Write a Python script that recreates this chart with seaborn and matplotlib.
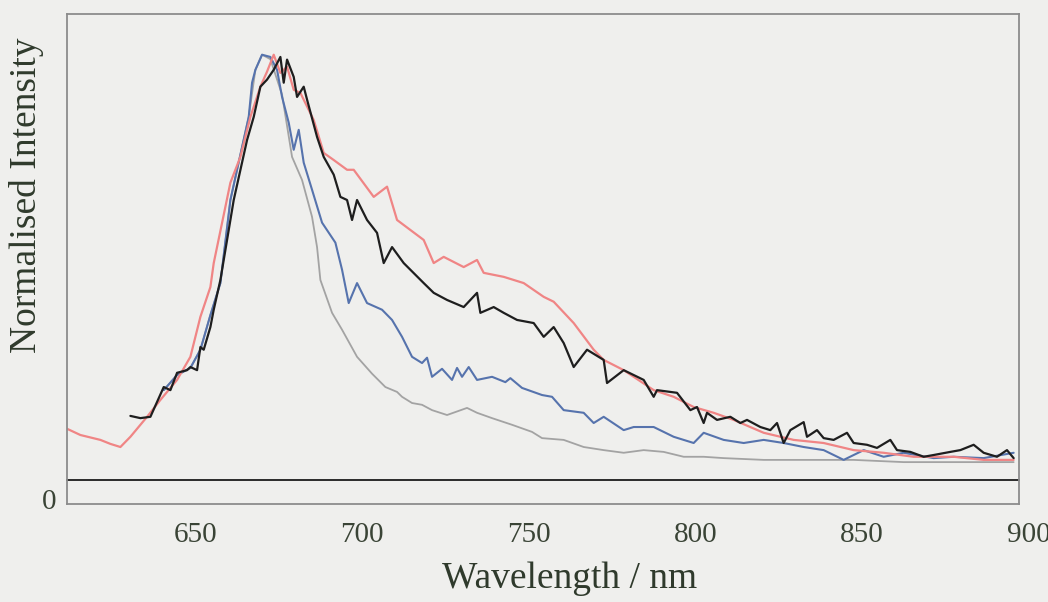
import matplotlib
matplotlib.use("Agg")
import matplotlib.pyplot as plt
import matplotlib.transforms as mtransforms
import seaborn as sns

# emission spectra (wavelength nm, normalised intensity)
red_wl = [616, 620, 626, 629, 632, 635, 640, 644, 649, 653, 656, 659, 660, 665, 668, 671, 674, 676,
          678, 680, 682, 684, 686, 690, 693, 696, 700, 702, 708, 712, 715, 723, 726, 729, 735, 739,
          741, 747, 753, 759, 762, 768, 774, 777, 783, 792, 798, 804, 810, 816, 825, 834, 843, 852,
          861, 870, 882, 891, 900]
red_int = [0.158, 0.144, 0.133, 0.124, 0.117, 0.140, 0.185, 0.223, 0.268, 0.320, 0.410, 0.477, 0.531,
           0.712, 0.770, 0.860, 0.928, 0.962, 1.000, 0.959, 0.973, 0.921, 0.914, 0.853, 0.779, 0.763,
           0.741, 0.741, 0.680, 0.703, 0.628, 0.583, 0.531, 0.545, 0.522, 0.538, 0.509, 0.500, 0.486,
           0.455, 0.444, 0.396, 0.336, 0.313, 0.290, 0.245, 0.230, 0.207, 0.194, 0.178, 0.149, 0.133,
           0.126, 0.110, 0.104, 0.095, 0.095, 0.088, 0.088]

black_wl = [635, 638, 641, 645, 647, 649, 652, 653, 655, 656, 657, 659, 660, 662, 666, 670, 672, 674,
            676, 678, 680, 681, 682, 684, 685, 687, 688, 691, 693, 696, 698, 700, 701.5, 703, 706, 709,
            711, 713.5, 717, 723, 726, 730, 735, 739, 740, 744, 747, 751, 756, 759, 762, 765, 768, 772,
            777, 778, 783, 789, 792, 793, 799, 803, 805, 807, 808, 811, 815, 818, 820, 824, 827, 829,
            831, 833, 837, 838, 841, 843, 846, 850, 852, 856, 859, 863, 865, 869, 873, 876, 881, 884,
            888, 891, 895, 898, 900]
black_int = [0.187, 0.182, 0.185, 0.252, 0.245, 0.284, 0.290, 0.297, 0.290, 0.342, 0.336, 0.387, 0.426,
             0.493, 0.673, 0.808, 0.860, 0.928, 0.944, 0.966, 0.995, 0.937, 0.989, 0.950, 0.905, 0.928,
             0.899, 0.815, 0.770, 0.730, 0.680, 0.673, 0.628, 0.673, 0.628, 0.599, 0.531, 0.567, 0.531,
             0.486, 0.464, 0.448, 0.432, 0.464, 0.419, 0.432, 0.419, 0.403, 0.396, 0.365, 0.387, 0.351,
             0.297, 0.336, 0.313, 0.261, 0.290, 0.268, 0.230, 0.245, 0.239, 0.200, 0.207, 0.171, 0.194,
             0.178, 0.185, 0.171, 0.178, 0.162, 0.155, 0.171, 0.126, 0.155, 0.173, 0.140, 0.155, 0.137,
             0.133, 0.149, 0.126, 0.122, 0.115, 0.133, 0.110, 0.106, 0.095, 0.099, 0.106, 0.110, 0.122,
             0.104, 0.095, 0.110, 0.092]

blue_wl = [645, 649, 653, 656, 659, 662, 665, 670.5, 671.5, 672.5, 674.5, 677, 679, 680.5, 682.5, 684,
           685.5, 687, 689.5, 692.5, 696.5, 698.5, 700.5, 703, 706, 710.5, 713.5, 716.5, 719.5, 722.5,
           724, 725.5, 728.5, 731.5, 733, 734.5, 736.5, 739, 743.5, 747.5, 749, 752.5, 758.5, 761.5,
           765, 771, 774, 777, 783, 786, 792, 798, 804, 807, 813, 819, 825, 831, 837, 843, 849, 855,
           861, 867, 876, 882, 891, 900]
blue_int = [0.245, 0.279, 0.295, 0.336, 0.414, 0.486, 0.673, 0.860, 0.937, 0.966, 1.000, 0.995, 0.966,
            0.905, 0.847, 0.786, 0.831, 0.757, 0.696, 0.622, 0.577, 0.516, 0.441, 0.486, 0.441, 0.426,
            0.403, 0.365, 0.320, 0.306, 0.318, 0.275, 0.293, 0.268, 0.295, 0.275, 0.297, 0.268, 0.275,
            0.263, 0.272, 0.250, 0.234, 0.230, 0.200, 0.194, 0.171, 0.185, 0.155, 0.162, 0.162, 0.140,
            0.126, 0.149, 0.133, 0.126, 0.133, 0.126, 0.117, 0.110, 0.088, 0.110, 0.095, 0.104, 0.092,
            0.095, 0.092, 0.104]

grey_wl = [645, 649, 653, 656, 659, 662, 665, 670.5, 672.5, 674.5, 677, 680.5, 683.5, 686.5, 689.5, 691,
           692, 695.5, 698.5, 703, 707.5, 711.5, 715, 716.5, 719.5, 722.5, 725.5, 730, 736, 739, 743.5,
           749.5, 755.5, 758.5, 765, 771, 777, 783, 789, 795, 801, 807, 813, 825, 837, 852, 867, 882, 900]
grey_int = [0.245, 0.279, 0.295, 0.336, 0.414, 0.486, 0.673, 0.860, 0.966, 1.000, 0.990, 0.910, 0.770,
            0.718, 0.635, 0.567, 0.493, 0.419, 0.381, 0.320, 0.282, 0.252, 0.241, 0.230, 0.216, 0.212,
            0.200, 0.189, 0.205, 0.194, 0.182, 0.167, 0.151, 0.137, 0.133, 0.117, 0.110, 0.104, 0.110,
            0.106, 0.095, 0.095, 0.092, 0.088, 0.088, 0.088, 0.083, 0.083, 0.083]

baseline = 0.043
x_ticks = [650, 700, 750, 800, 850, 900]

sns.set_style("white")
plt.rcParams['font.family'] = ['Liberation Serif', 'DejaVu Serif']

bg = '#efefed'
fig = plt.figure(figsize=(10.48, 6.02), dpi=100, facecolor=bg)
ax = fig.add_axes([0.064, 0.163, 0.908, 0.814])
ax.set_facecolor(bg)

sns.lineplot(x=grey_wl, y=grey_int, ax=ax, color='#a3a3a3', lw=1.3, estimator=None, sort=False)
sns.lineplot(x=blue_wl, y=blue_int, ax=ax, color='#5673ad', lw=1.5, estimator=None, sort=False)
sns.lineplot(x=red_wl, y=red_int, ax=ax, color='#f08585', lw=1.6, estimator=None, sort=False)
sns.lineplot(x=black_wl, y=black_int, ax=ax, color='#1e1e1e', lw=1.6, estimator=None, sort=False)
ax.axhline(baseline, color='#2a2a2a', lw=1.4, clip_on=False)

ax.set_xlim(616, 901.5)
ax.set_ylim(-0.011, 1.092)
ax.set_xticks(x_ticks)
ax.set_yticks([0])

for s in ax.spines.values():
    s.set_color('#8c8c8c')
    s.set_linewidth(1.3)

ax.tick_params(axis='x', direction='out', length=9, width=1.2, color='#8c8c8c',
               labelsize=21, labelcolor='#3a4436', pad=4)
ax.tick_params(axis='y', direction='out', length=7, width=1.2, color='#8c8c8c',
               labelsize=21, labelcolor='#3a4436', pad=1)

# tick labels on the scan sit to the right of their ticks
shift = mtransforms.ScaledTranslation(0.15, 0, fig.dpi_scale_trans)
for lab in ax.get_xticklabels():
    lab.set_transform(lab.get_transform() + shift)

ax.set_xlabel('Wavelength / nm', fontsize=27, color='#2f3a2c')
ax.set_ylabel('Normalised Intensity', fontsize=27, color='#2f3a2c')
ax.xaxis.set_label_coords(0.528, -0.118)
ax.yaxis.set_label_coords(-0.024, 0.63)

fig.savefig('out.png', dpi=100, facecolor=bg)
